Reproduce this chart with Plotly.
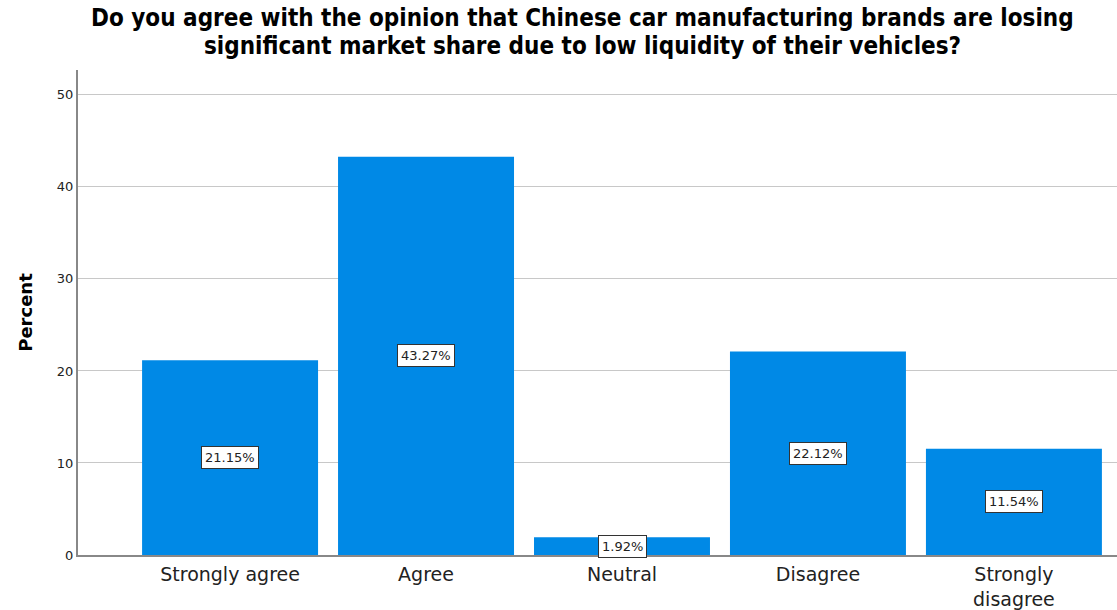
import plotly.graph_objects as go

categories = ["Strongly agree", "Agree", "Neutral", "Disagree", "Strongly<br>disagree"]
percents = [21.15, 43.27, 1.92, 22.12, 11.54]
labels = ["21.15%", "43.27%", "1.92%", "22.12%", "11.54%"]
y_ticks = [0, 10, 20, 30, 40, 50]
title_lines = [
    "Do you agree with the opinion that Chinese car manufacturing brands are losing",
    "significant market share due to low liquidity of their vehicles?",
]

fig = go.Figure()
fig.add_trace(go.Bar(
    x=list(range(len(categories))), y=percents,
    marker=dict(color="rgb(0,137,230)", line=dict(width=0)),
    hoverinfo="skip",
))

for i, (v, t) in enumerate(zip(percents, labels)):
    fig.add_annotation(
        x=i, y=v / 2, text=t, showarrow=False,
        font=dict(family="DejaVu Sans", size=13, color="#222"),
        bgcolor="white", bordercolor="#333", borderwidth=1, borderpad=3,
    )

for ty, line in zip([1.1072, 1.0494], title_lines):
    fig.add_annotation(
        xref="paper", yref="paper", x=0.486, y=ty, xanchor="center", yanchor="middle",
        text="<b>" + line + "</b>", showarrow=False,
        font=dict(family="Liberation Sans Narrow, DejaVu Sans Condensed", size=24, color="black"),
    )

fig.update_layout(
    width=1117, height=610,
    margin=dict(l=78, r=0, t=70, b=55, autoexpand=False),
    paper_bgcolor="white", plot_bgcolor="white",
    bargap=0.102,
    showlegend=False,
    xaxis=dict(
        range=[-0.776, 4.526], automargin=False,
        tickmode="array", tickvals=list(range(len(categories))), ticktext=categories,
        tickfont=dict(family="DejaVu Sans", size=19, color="#222"),
        showgrid=False, showline=True, linecolor="#888", linewidth=2,
        ticks="", zeroline=False, ticklabelstandoff=1,
    ),
    yaxis=dict(
        range=[0, 52.7], automargin=False,
        tickvals=y_ticks,
        tickfont=dict(family="DejaVu Sans", size=13, color="#222"),
        showgrid=True, gridcolor="#c8c8c8", gridwidth=1,
        showline=True, linecolor="#888", linewidth=2,
        ticks="", ticklen=0, zeroline=False,
        title=dict(text="<b>Percent</b>", font=dict(family="DejaVu Sans", size=18, color="black"), standoff=20),
    ),
)

fig.write_html("out.html")
